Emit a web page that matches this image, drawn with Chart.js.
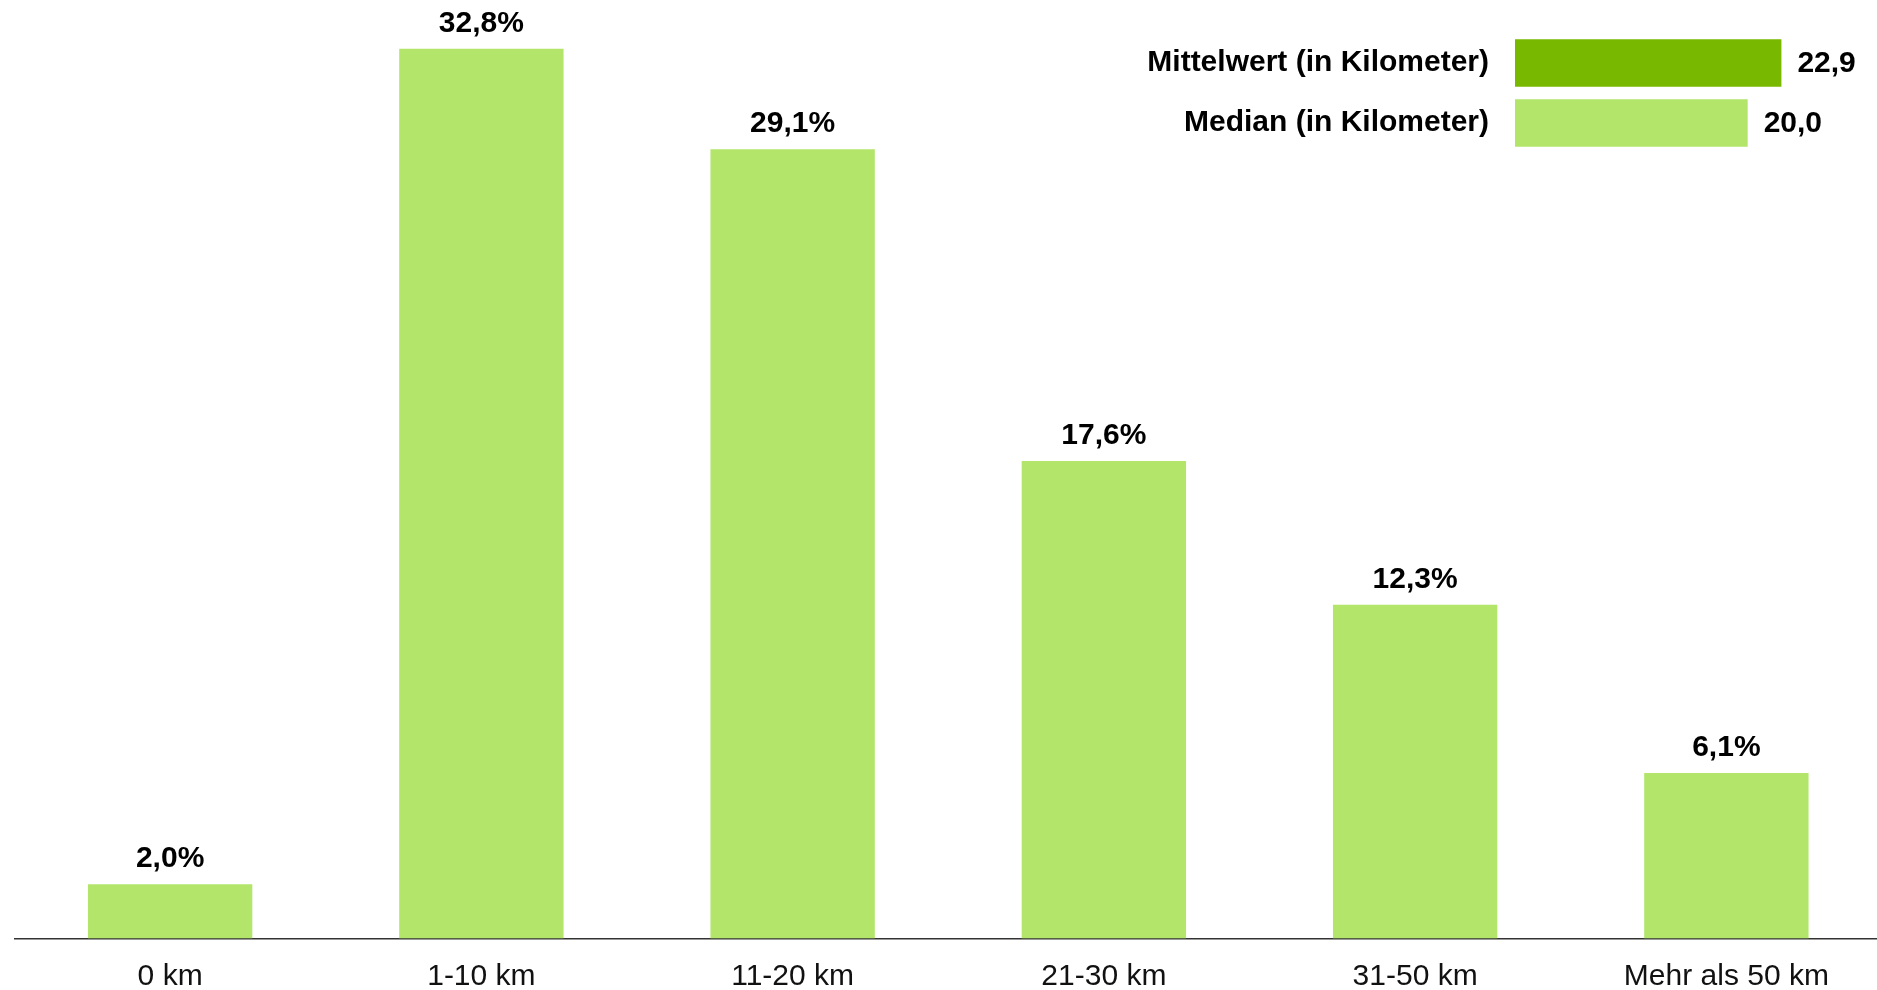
<!DOCTYPE html>
<html>
<head>
<meta charset="utf-8">
<script src="https://cdn.jsdelivr.net/npm/chart.js@4/dist/chart.umd.min.js"></script>
<style>
    html, body { margin: 0; padding: 0; background: #fff; overflow: hidden; }
    #wrap { position: relative; width: 1877px; height: 990px; overflow: hidden; }
    #main { position: absolute; left: 0; top: 0; }
    #inset { position: absolute; left: 1100px; top: -11px; }
</style>
</head>
<body>
<div id="wrap">
    <!-- a bit wider than the window so the last category ends past the right edge, as in the original -->
    <canvas id="main" width="1882" height="990"></canvas>
    <canvas id="inset" width="777" height="208"></canvas>
</div>
<script>
// ----- D A T A
const distanceLabels = ["0 km", "1-10 km", "11-20 km", "21-30 km", "31-50 km", "Mehr als 50 km"];
const distanceShares = [2.0, 32.8, 29.1, 17.6, 12.3, 6.1];

const statLabels = ["Mittelwert (in Kilometer)", "Median (in Kilometer)"];
const statValues = [22.9, 20.0];

// ----- S E T T I N G S
const FONT_FAMILY = "'Liberation Sans', Arial, sans-serif",
    FONT_SIZE = 30,
    LIGHT_GREEN = "#b2e56a",
    DARK_GREEN = "#78b800";

const fmt = (v, d) => v.toFixed(d).replace(".", ",");

// draws the value labels next to / above the bars
const valueLabels = {
    id: "valueLabels",
    afterDatasetsDraw(chart, args, opts) {
        const ctx = chart.ctx;
        const meta = chart.getDatasetMeta(0);
        ctx.save();
        ctx.fillStyle = "#000";
        ctx.font = `bold ${opts.size}px ${FONT_FAMILY}`;
        meta.data.forEach((bar, i) => {
            const v = chart.data.datasets[0].data[i];
            if (opts.horizontal) {
                ctx.textAlign = "left";
                ctx.textBaseline = "middle";
                ctx.fillText(fmt(v, 1), bar.x + opts.offset, bar.y + 1);
            } else {
                ctx.textAlign = "center";
                ctx.textBaseline = "alphabetic";
                ctx.fillText(fmt(v, 1) + "%", bar.x, bar.y - opts.offset);
            }
        });
        ctx.restore();
    }
};

new Chart(document.getElementById("main"), {
    type: "bar",
    data: {
        labels: distanceLabels,
        datasets: [{
            data: distanceShares,
            backgroundColor: LIGHT_GREEN,
            barPercentage: 0.528,
            categoryPercentage: 1
        }]
    },
    options: {
        responsive: false,
        animation: false,
        layout: { padding: { left: 14.5, right: 0, top: 0, bottom: 0 } },
        plugins: {
            legend: { display: false },
            tooltip: { enabled: false },
            valueLabels: { size: FONT_SIZE, offset: 17 }
        },
        scales: {
            x: {
                grid: { display: false, drawTicks: false },
                border: { display: true, color: "#333", width: 1.5 },
                afterFit(scale) { scale.height = 51.5; },
                ticks: {
                    color: "#111",
                    padding: 20,
                    font: { family: FONT_FAMILY, size: FONT_SIZE }
                }
            },
            y: {
                display: false,
                min: 0,
                max: 34.6
            }
        }
    },
    plugins: [valueLabels]
});

new Chart(document.getElementById("inset"), {
    type: "bar",
    data: {
        labels: statLabels,
        datasets: [{
            data: statValues,
            backgroundColor: [DARK_GREEN, LIGHT_GREEN],
            barPercentage: 0.79,
            categoryPercentage: 1
        }]
    },
    options: {
        indexAxis: "y",
        responsive: false,
        animation: false,
        layout: { padding: { left: 0, right: 13, top: 0, bottom: 0 } },
        plugins: {
            legend: { display: false },
            tooltip: { enabled: false },
            valueLabels: { size: FONT_SIZE, offset: 16, horizontal: true }
        },
        scales: {
            x: { display: false, min: 0, max: 30 },
            y: {
                grid: { display: false, drawTicks: false },
                border: { display: false },
                afterFit(scale) { scale.width = 415; },
                ticks: {
                    color: "#000",
                    padding: 26,
                    font: { family: FONT_FAMILY, size: FONT_SIZE, weight: "bold" }
                }
            }
        }
    },
    plugins: [valueLabels]
});
</script>
</body>
</html>
